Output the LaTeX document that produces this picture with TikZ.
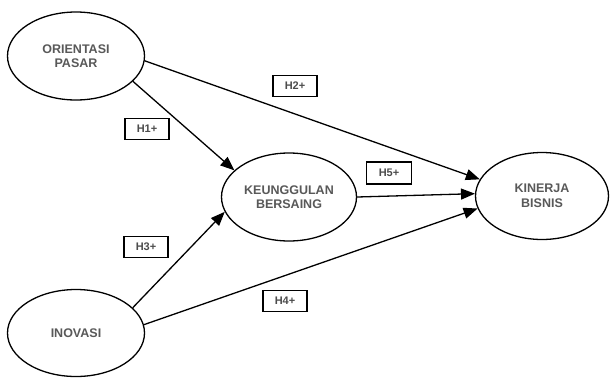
\documentclass[tikz,border=0pt]{standalone}
\usepackage{fontspec}
\setmainfont{Liberation Sans}
\usetikzlibrary{shapes.geometric,arrows.meta}
\begin{document}
\begin{tikzpicture}[x=1pt,y=-1pt,
  construct/.style={draw,ellipse,line width=1.3pt,minimum width=137pt,minimum height=88pt,inner sep=0pt,align=center,font=\fontsize{12.5}{14.5}\selectfont\bfseries,text=black!65},
  hyp/.style={draw,line width=1.6pt,minimum width=44pt,minimum height=21pt,inner sep=0pt,font=\fontsize{11}{13}\selectfont\bfseries,text=black!70},
  link/.style={line width=1.3pt,-{Triangle[length=14pt,width=11pt]}}]
\useasboundingbox[fill=white] (0,0) rectangle (610,378);
\node[construct] (op) at (76,56) {ORIENTASI\\PASAR};
\node[construct,minimum width=135pt] (kb) at (289,197) {KEUNGGULAN\\BERSAING};
\node[construct,minimum width=133pt,minimum height=87pt] (kin) at (542,196) {KINERJA\\BISNIS};
\node[construct,minimum height=87pt] (ino) at (76,333) {INOVASI};
\draw[link] (op.-24) -- (kb.154);
\draw[link] (op.-4) -- (kin.165);
\draw[link] (kb.east) -- (kin.178);
\draw[link] (ino.24) -- (kb.-167);
\draw[link] (ino.7) -- (kin.-169);
\node[hyp] (h1) at (147,129) {H1+};
\node[hyp] (h2) at (295,86) {H2+};
\node[hyp] (h3) at (146,247) {H3+};
\node[hyp] (h4) at (285,301) {H4+};
\node[hyp,minimum width=45pt,minimum height=22pt] (h5) at (389,173) {H5+};
\end{tikzpicture}
\end{document}
